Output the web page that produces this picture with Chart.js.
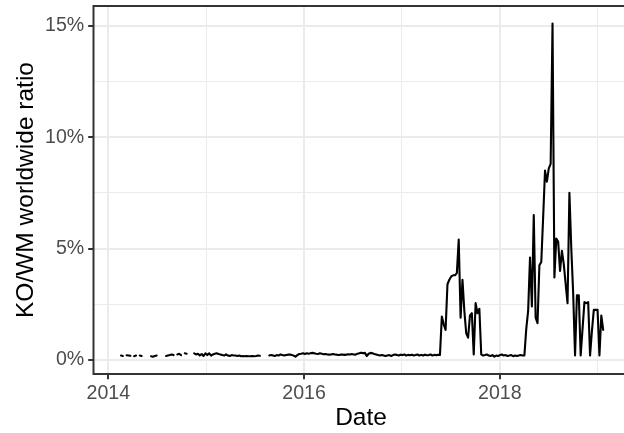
<!DOCTYPE html>
<html>
<head>
<meta charset="utf-8">
<script src="https://cdn.jsdelivr.net/npm/chart.js@4.4.1/dist/chart.umd.min.js"></script>
<style>
	html, body { margin: 0; padding: 0; background: #ffffff; overflow: hidden; }
	#wrap { width: 640px; height: 433px; }
</style>
</head>
<body>
<div id="wrap"><canvas id="chart" width="640" height="433"></canvas></div>
<script>
// weekly series, first week ~ mid Feb 2014 (decimal year)
const startYear = 2014.13;
const weekInYears = 7 / 365.25;

// KO/WM ratio in percent, null = missing week
const ratio2014 = [
	0.2, 0.18, null, 0.21, 0.2, 0.19, null, 0.17, 0.2, null,
	0.2, 0.18, null, null, null, null, 0.17, 0.15, 0.18, 0.2,
	null, null, null, null, 0.18, 0.2, 0.22, 0.25, 0.22, null,
	0.25, 0.28, 0.22, null, 0.3, 0.28, null, null, null,
	0.3, 0.25, 0.28, 0.2, 0.27, 0.18, 0.3, 0.22, 0.3, 0.2,
	0.25, 0.28, 0.3, 0.27, 0.25, 0.22, 0.2, 0.25, 0.2, 0.18,
	0.22, 0.2, 0.2, 0.18, 0.2, 0.17, 0.18, 0.17, 0.18, 0.17,
	0.17, 0.18, 0.17, 0.18, 0.2, 0.19,
	null, null, null, null,
];
const ratio2015to2017 = [
	0.2, 0.22, 0.2, 0.18, 0.22, 0.2, 0.25, 0.22, 0.2, 0.22, 0.24,
	0.25, 0.22, 0.2, 0.15, 0.22,
	0.27, 0.28, 0.3, 0.27, 0.3, 0.28, 0.3, 0.32, 0.3, 0.28, 0.27, 0.3, 0.28, 0.26, 0.27,
	0.25, 0.24, 0.25, 0.27, 0.25, 0.24, 0.22, 0.24, 0.25, 0.23,
	0.24, 0.26, 0.25, 0.27, 0.25, 0.24, 0.28, 0.3, 0.33, 0.3,
	0.32, 0.18, 0.28, 0.32, 0.3,
	0.27, 0.25, 0.22, 0.2, 0.22, 0.2, 0.18, 0.2, 0.22, 0.18,
	0.22, 0.25, 0.23, 0.2, 0.24, 0.22, 0.25, 0.2, 0.23, 0.21,
	0.24, 0.2, 0.22, 0.25, 0.2, 0.23, 0.2, 0.24, 0.21, 0.22,
	0.25, 0.2, 0.23, 0.21, 0.24, 0.22,
];
const surge2017 = [
	1.95, 1.6, 1.35, 3.4, 3.6, 3.75, 3.8, 3.8, 3.9, 5.4,
	1.9, 3.6, 2.2, 1.2, 1.0, 2.0, 2.1, 0.25, 2.55, 2.1, 2.3,
];
const ratioLate2017 = [
	0.25, 0.2, 0.22, 0.25, 0.2, 0.18, 0.22, 0.15, 0.2, 0.18,
	0.22, 0.25, 0.2, 0.22, 0.18, 0.2, 0.22, 0.17, 0.2, 0.18,
	0.2, 0.22, 0.2,
];
const surge2018 = [
	0.2, 1.4, 2.2, 4.6, 2.4, 6.5, 1.9, 1.65, 4.25, 4.4,
	6.4, 8.5, 8.0, 8.6, 8.8, 15.1, 3.7, 5.45, 5.3, 4.0,
	4.9, 4.3, 3.4, 2.55, 7.5, 5.0, 3.0, 0.2, 2.9, 2.9,
	0.2, 1.4, 2.6, 2.55, 2.6, 0.2, 1.3, 2.25, 2.25, 2.25,
	0.2, 2.0, 1.35,
];

const yearLabels = [2014, 2016, 2018];
const percentLabels = [0, 5, 10, 15];

const ratio = [...ratio2014, ...ratio2015to2017, ...surge2017, ...ratioLate2017, ...surge2018];
const points = ratio.map((v, i) => ({ x: startYear + i * weekInYears, y: v }));

const fontFamily = "'Liberation Sans', Arial, Helvetica, sans-serif";

const panelBorder = {
	id: "panelBorder",
	afterDatasetsDraw(chart) {
		const { ctx, chartArea: a } = chart;
		ctx.save();
		ctx.strokeStyle = "#333333";
		ctx.lineWidth = 2;
		ctx.strokeRect(a.left, a.top, a.right - a.left, a.bottom - a.top);
		ctx.restore();
	},
};

// fixed axis boxes so the panel sits where ggplot put it
function fixBox(size) {
	return (scale) => {
		if (scale.isHorizontal()) scale.height = size;
		else scale.width = size;
		scale.paddingTop = 0;
		scale.paddingBottom = 0;
		scale.paddingLeft = 0;
		scale.paddingRight = 0;
	};
}

new Chart(document.getElementById("chart"), {
	type: "line",
	data: {
		datasets: [
			{
				data: points,
				borderColor: "#000000",
				borderWidth: 2.1,
				borderJoinStyle: "round",
				borderCapStyle: "round",
				pointRadius: 0,
				tension: 0,
				spanGaps: false,
			},
		],
	},
	options: {
		responsive: false,
		animation: false,
		devicePixelRatio: 1,
		layout: { padding: { left: 0, top: 6, right: 11.4, bottom: 0 } },
		plugins: { legend: { display: false }, tooltip: { enabled: false } },
		scales: {
			x: {
				type: "linear",
				min: 2013.849,
				max: 2019.315,
				afterFit: fixBox(59),
				border: { display: false },
				grid: {
					color: "#ebebeb",
					lineWidth: (c) => (yearLabels.includes(c.tick && c.tick.value) ? 2 : 1),
					tickLength: 5.3,
					tickWidth: 2,
					tickColor: (c) => (yearLabels.includes(c.tick && c.tick.value) ? "#333333" : "rgba(0,0,0,0)"),
				},
				ticks: {
					stepSize: 1,
					includeBounds: false,
					autoSkip: false,
					maxRotation: 0,
					padding: 3,
					color: "#4d4d4d",
					font: { family: fontFamily, size: 19.6 },
					callback: (v) => (yearLabels.includes(v) ? String(v) : ""),
				},
				title: {
					display: true,
					text: "Date",
					color: "#000000",
					font: { family: fontFamily, size: 24.5 },
					padding: { top: 0, bottom: 0 },
				},
			},
			y: {
				min: -0.628,
				max: 15.884,
				afterFit: fixBox(93.5),
				border: { display: false },
				grid: {
					color: "#ebebeb",
					lineWidth: (c) => (percentLabels.includes(c.tick && c.tick.value) ? 2 : 1),
					tickLength: 5.3,
					tickWidth: 2,
					tickColor: (c) => (percentLabels.includes(c.tick && c.tick.value) ? "#333333" : "rgba(0,0,0,0)"),
				},
				ticks: {
					stepSize: 2.5,
					includeBounds: false,
					padding: 4,
					color: "#4d4d4d",
					font: { family: fontFamily, size: 19.6 },
					callback: (v) => (percentLabels.includes(v) ? v + "%" : ""),
				},
				title: {
					display: true,
					text: "KO/WM worldwide ratio",
					color: "#000000",
					font: { family: fontFamily, size: 24.5 },
					padding: { top: 11.3, bottom: 0 },
				},
			},
		},
	},
	plugins: [panelBorder],
});
</script>
</body>
</html>
